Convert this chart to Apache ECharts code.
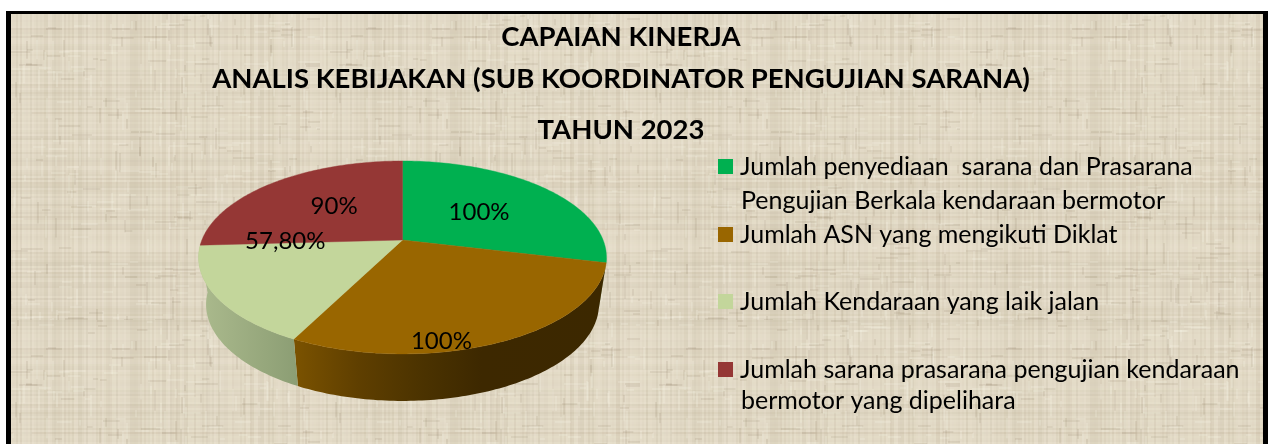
<!DOCTYPE html>
<html><head><meta charset="utf-8"><style>html,body{margin:0;padding:0;background:#fff}#c{width:1272px;height:444px}</style>
<script src="https://cdn.jsdelivr.net/npm/echarts@6/dist/echarts.min.js"></script></head>
<body><div id="c"></div><script>
const titleLines = ['CAPAIAN KINERJA','ANALIS KEBIJAKAN (SUB KOORDINATOR PENGUJIAN SARANA)','TAHUN 2023'];
const categories = ['Jumlah penyediaan  sarana dan Prasarana\nPengujian Berkala kendaraan bermotor','Jumlah ASN yang mengikuti Diklat','Jumlah Kendaraan yang laik jalan','Jumlah sarana prasarana pengujian kendaraan\nbermotor yang dipelihara'];
const values = [100,100,57.8,90];
const valueLabels = ['100%','100%','57,80%','90%'];
const colors = ['#00b050','#996600','#c3d69b','#953735'];

const FONT='Lato', CX=402.5, CY=240, R=200.6, RS=93.3, K=0.181, DEPTH=47, BOT=0.963;
const labelShift=[[-12,5],[-17,45],[-10,-31],[13,2]];
const iconTops=[159,227,294,362];
const secondLineY=[200.5,null,null,400.5];
const legendFont=25;
const total=values.reduce((a,b)=>a+b,0);
const startOf=i=>values.slice(0,i).reduce((a,b)=>a+b,0)/total*360;
function project(deg,r){const a=deg*Math.PI/180,u=Math.sin(a)*r,v=Math.cos(a)*-1*r,w=1-K*v;return [CX+R*u/w,CY+RS*v/w];}
function arc(a0,a1){const n=Math.max(2,Math.ceil(Math.abs(a1-a0)));const p=[];for(let i=0;i<=n;i++)p.push(project(a0+(a1-a0)*i/n,1));return p;}
function texture(){
  const S=320,c=document.createElement('canvas');c.width=c.height=S;const g=c.getContext('2d');
  g.fillStyle='#e1d8c4';g.fillRect(0,0,S,S);
  const h=(n)=>{const x=Math.sin(n*127.1+11.7)*43758.5453;return x-Math.floor(x);};
  for(let i=0;i<S;i+=2){
    g.fillStyle=h(i)>.5?`rgba(255,250,235,${h(i+500)*.14})`:`rgba(150,135,105,${h(i+500)*.1})`;g.fillRect(i,0,2,S);
    g.fillStyle=h(i+900)>.5?`rgba(255,250,235,${h(i+1500)*.14})`:`rgba(150,135,105,${h(i+1500)*.1})`;g.fillRect(0,i,S,2);
  }
  for(let k=0;k<500;k++){const x=Math.floor(h(k+2000)*S),y=Math.floor(h(k+3000)*S),horiz=h(k+4000)>.5,l=5+h(k+5000)*18;
    g.fillStyle=h(k+6000)>.55?'rgba(125,112,85,.11)':'rgba(255,252,240,.16)';
    horiz?g.fillRect(x,y,l,2):g.fillRect(x,y,2,l);}
  const o=document.createElement('canvas');o.width=o.height=S;const q=o.getContext('2d');q.filter='blur(0.6px)';q.drawImage(c,0,0);
  return o;
}
function renderSlice(params,api){
  const i=params.seriesIndex,val=api.value(0);
  const a0=startOf(i),a1=a0+val/total*360,rim=arc(a0,a1);
  const kids=[];
  const wallFrom=Math.max(a0,100),wallTo=Math.min(a1,268);
  if(wallTo>wallFrom){
    const t=arc(wallFrom,wallTo),b=t.slice().reverse().map(p=>[CX+(p[0]-CX)*BOT,p[1]+DEPTH]);
    const grad=i===1?[[0,'#7a5200'],[.2,'#5f3f00'],[.42,'#4a3200'],[.6,'#3d2800'],[1,'#3c2800']]:[[0,'#abba8d'],[1,'#8c9e74']];
    const gx=i===1?[296,606]:[200,296];
    kids.push({type:'polygon',z2:1,shape:{points:t.concat(b)},style:{fill:new echarts.graphic.LinearGradient(gx[0],0,gx[1],0,grad.map(s=>({offset:s[0],color:s[1]})),true)}});
  }
  kids.push({type:'polygon',z2:2,shape:{points:[[CX,CY]].concat(rim)},style:{fill:colors[i],stroke:colors[i],lineWidth:.4}});
  const m=project((a0+a1)/2,.6);
  kids.push({type:'text',z2:3,x:m[0]+labelShift[i][0],y:m[1]+labelShift[i][1],style:{text:valueLabels[i],font:'24px '+FONT,fill:'#000',align:'center',verticalAlign:'middle'}});
  return {type:'group',children:kids};
}
const chart=echarts.init(document.getElementById('c'),null,{renderer:'canvas'});
const titleTops=[37.5,79,130.5];
const titles=titleLines.map((t,i)=>({text:t,left:621,top:titleTops[i],textAlign:'center',textVerticalAlign:'middle',padding:0,textStyle:{fontFamily:FONT,fontSize:27.5,fontWeight:'bold',color:'#000'}}));
categories.forEach((c,i)=>{const p=c.split('\n');if(p[1])titles.push({text:p[1],left:741,top:secondLineY[i],textVerticalAlign:'middle',padding:0,textStyle:{fontFamily:FONT,fontSize:legendFont,fontWeight:'normal',color:'#000'}});});
chart.setOption({
  animation:false,
  title:titles,
  legend:categories.map((c,i)=>({data:[c],left:718,top:iconTops[i]-5,padding:0,itemWidth:15,itemHeight:15,icon:'rect',selectedMode:false,orient:'vertical',
    formatter:n=>'{a|'+n.split('\n')[0]+'}',textStyle:{fontFamily:FONT,fontSize:legendFont,color:'#000',rich:{a:{fontFamily:FONT,fontSize:legendFont,color:'#000',padding:[0,0,0,2]}}}})),
  graphic:[
    {type:'rect',z:-11,silent:true,shape:{x:6,y:11,width:1262,height:433},style:{fill:'#000'}},
    {type:'rect',z:-10,silent:true,shape:{x:11,y:14,width:1252,height:430},style:{fill:{image:texture(),repeat:'repeat'}}}
  ],
  series:categories.map((c,i)=>({type:'custom',name:c,coordinateSystem:'none',z:2,silent:true,itemStyle:{color:colors[i]},renderItem:renderSlice,data:[[values[i]]]}))
});
</script></body></html>
